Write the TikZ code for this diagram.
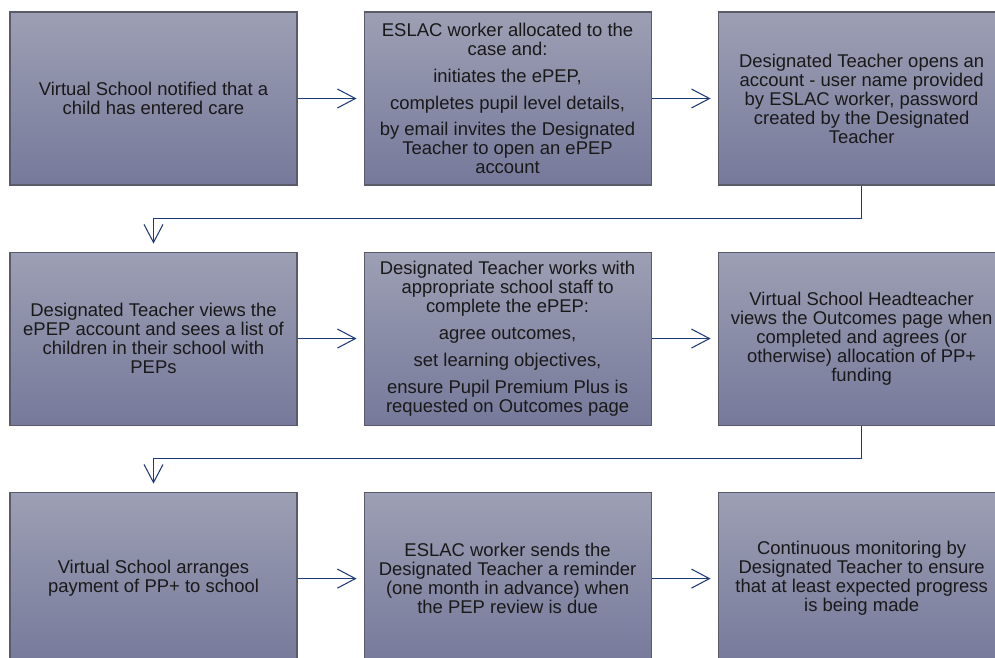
\documentclass[tikz,border=0pt]{standalone}
\usepackage{fontspec}
\setmainfont{Liberation Sans}
\usetikzlibrary{positioning,arrows.meta}

\definecolor{boxtop}{HTML}{9D9FB4}
\definecolor{boxbottom}{HTML}{76799A}
\definecolor{boxline}{HTML}{5A5B68}
\definecolor{linkblue}{HTML}{1F3A7A}

\tikzset{
    stage/.style = {draw = boxline, line width = 0.6pt,
        top color = boxtop, bottom color = boxbottom,
        minimum width = 5.74cm, minimum height = 3.46cm,
        align = center, text = black!90, inner sep = 0pt,
        font = \fontsize{10.5}{10.8}\selectfont},
    link/.style = {draw = linkblue, line width = 0.6pt,
        -{Straight Barb[length = 0.36cm, width = 0.38cm, line width = 0.6pt]},
        shorten > = 0.14cm}
}

\begin{document}
\begin{tikzpicture}
            \useasboundingbox (0, 0) rectangle (19.9, -13.14);
            \clip (0, 0) rectangle (19.9, -13.14);

            % first row
            \node [stage] (notified) at (3.07, -1.97)
                {Virtual School notified that a\\ child has entered care};
            \node [stage, right = 1.32cm of notified] (allocated)
                {ESLAC worker allocated to the\\ case and:\\[4.5pt]
                 initiates the ePEP,\\[4.5pt]
                 completes pupil level details,\\[4.5pt]
                 by email invites the Designated\\ Teacher to open an ePEP\\ account};
            \node [stage, right = 1.32cm of allocated] (account)
                {Designated Teacher opens an\\ account - user name provided\\
                 by ESLAC worker, password\\ created by the Designated\\ Teacher};

            % second row
            \node [stage, below = 1.32cm of notified] (views)
                {Designated Teacher views the\\ ePEP account and sees a list of\\
                 children in their school with\\ PEPs};
            \node [stage, right = 1.32cm of views] (complete)
                {Designated Teacher works with\\ appropriate school staff to\\
                 complete the ePEP:\\[4.5pt]
                 agree outcomes,\\[4.5pt]
                 set learning objectives,\\[4.5pt]
                 ensure Pupil Premium Plus is\\ requested on Outcomes page};
            \node [stage, right = 1.32cm of complete] (agrees)
                {Virtual School Headteacher\\ views the Outcomes page when\\
                 completed and agrees (or\\ otherwise) allocation of PP+\\ funding};

            % third row
            \node [stage, below = 1.32cm of views] (payment)
                {Virtual School arranges\\ payment of PP+ to school};
            \node [stage, right = 1.32cm of payment] (reminder)
                {ESLAC worker sends the\\ Designated Teacher a reminder\\
                 (one month in advance) when\\ the PEP review is due};
            \node [stage, right = 1.32cm of reminder] (monitoring)
                {Continuous monitoring by\\ Designated Teacher to ensure\\
                 that at least expected progress\\ is being made};

            % links along each row
            \draw [link] (notified) -- (allocated);
            \draw [link] (allocated) -- (account);
            \draw [link] (views) -- (complete);
            \draw [link] (complete) -- (agrees);
            \draw [link] (payment) -- (reminder);
            \draw [link] (reminder) -- (monitoring);

            % links back to the start of the next row
            \draw [link, shorten > = 0.16cm] (account.south) -- ++(0, -0.66) -| (views.north);
            \draw [link, shorten > = 0.16cm] (agrees.south) -- ++(0, -0.66) -| (payment.north);
        \end{tikzpicture}
\end{document}
